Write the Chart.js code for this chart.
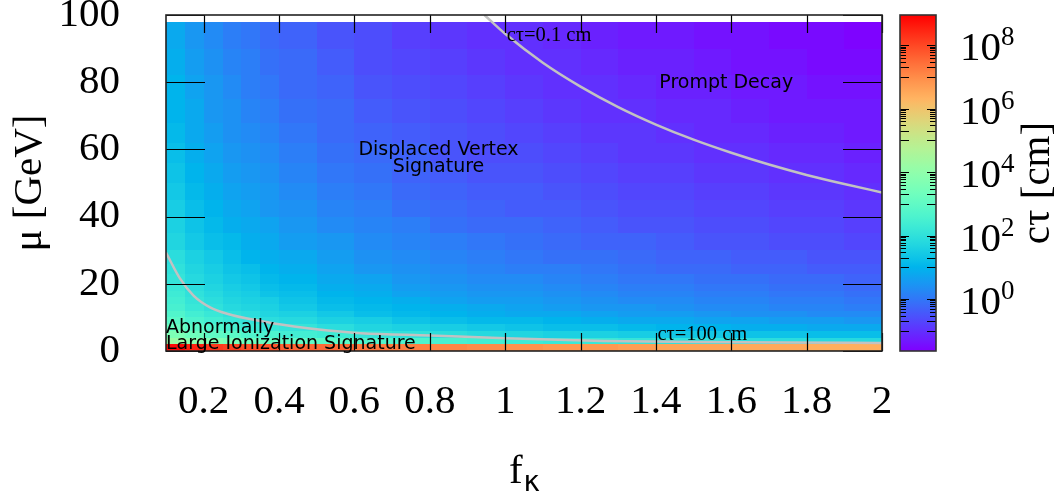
<!DOCTYPE html>
<html>
<head>
<meta charset="utf-8">
<title>c&tau; map</title>
<script src="https://cdn.jsdelivr.net/npm/chart.js@4.4.1/dist/chart.umd.min.js"></script>
<style>
  html, body { margin: 0; padding: 0; background: #fff; }
  #wrap { width: 1060px; height: 499px; }
</style>
</head>
<body>
<div id="wrap"><canvas id="ctauChart" width="1060" height="499"></canvas></div>
<script>
// Cell edges: f_kappa columns and mu rows (GeV)
const fEdges = [0.1, 0.15, 0.2, 0.25, 0.3, 0.35, 0.4, 0.5, 0.6, 0.7, 0.8, 0.9, 1.0, 1.1, 1.2, 1.3, 1.4, 1.5, 1.6, 1.7, 1.8, 1.9, 2.0];
const muEdges = [0, 2, 4, 6, 8, 10, 12, 14, 16, 18, 20, 23, 26, 30, 35, 40, 45, 50, 56, 62, 68, 75, 82, 90, 98];

// log10(c tau / cm), one row per mu bin, bottom row first
const logCtau = [
  [8.8, 8.5, 8.2, 8.1, 7.9, 7.8, 7.6, 7.5, 7.3, 7.2, 7.1, 7.0, 6.9, 6.8, 6.8, 6.7, 6.6, 6.6, 6.5, 6.5, 6.4, 6.4],
  [4.2, 3.9, 3.7, 3.5, 3.3, 3.2, 3.0, 2.9, 2.7, 2.6, 2.5, 2.4, 2.3, 2.2, 2.2, 2.1, 2.0, 2.0, 1.9, 1.9, 1.8, 1.8],
  [3.6, 3.3, 3.0, 2.9, 2.7, 2.6, 2.4, 2.3, 2.1, 2.0, 1.9, 1.8, 1.7, 1.6, 1.6, 1.5, 1.4, 1.4, 1.3, 1.3, 1.2, 1.2],
  [3.2, 2.9, 2.7, 2.5, 2.3, 2.2, 2.1, 1.9, 1.7, 1.6, 1.5, 1.4, 1.3, 1.2, 1.2, 1.1, 1.0, 1.0, 0.9, 0.9, 0.8, 0.8],
  [2.9, 2.6, 2.4, 2.2, 2.1, 1.9, 1.8, 1.6, 1.5, 1.3, 1.2, 1.1, 1.1, 1.0, 0.9, 0.8, 0.8, 0.7, 0.7, 0.6, 0.6, 0.5],
  [2.7, 2.4, 2.2, 2.0, 1.9, 1.7, 1.6, 1.4, 1.2, 1.1, 1.0, 0.9, 0.8, 0.8, 0.7, 0.6, 0.6, 0.5, 0.4, 0.4, 0.3, 0.3],
  [2.5, 2.2, 2.0, 1.8, 1.7, 1.6, 1.4, 1.2, 1.1, 1.0, 0.9, 0.8, 0.7, 0.6, 0.5, 0.5, 0.4, 0.3, 0.3, 0.2, 0.2, 0.1],
  [2.4, 2.1, 1.9, 1.7, 1.6, 1.5, 1.3, 1.1, 1.0, 0.9, 0.7, 0.6, 0.6, 0.5, 0.4, 0.3, 0.3, 0.2, 0.2, 0.1, 0.1, 0.0],
  [2.3, 2.0, 1.8, 1.6, 1.5, 1.3, 1.2, 1.0, 0.9, 0.7, 0.6, 0.5, 0.5, 0.4, 0.3, 0.2, 0.2, 0.1, 0.1, 0.0, 0.0, -0.1],
  [2.2, 1.9, 1.7, 1.5, 1.4, 1.2, 1.1, 0.9, 0.8, 0.6, 0.5, 0.4, 0.4, 0.3, 0.2, 0.1, 0.1, 0.0, 0.0, -0.1, -0.1, -0.2],
  [2.1, 1.8, 1.6, 1.4, 1.3, 1.1, 1.0, 0.8, 0.7, 0.5, 0.4, 0.3, 0.3, 0.2, 0.1, 0.0, 0.0, -0.1, -0.1, -0.2, -0.2, -0.3],
  [2.0, 1.7, 1.5, 1.3, 1.2, 1.0, 0.9, 0.7, 0.5, 0.4, 0.3, 0.2, 0.1, 0.1, 0.0, -0.1, -0.2, -0.2, -0.3, -0.3, -0.4, -0.4],
  [1.9, 1.6, 1.4, 1.2, 1.0, 0.9, 0.8, 0.6, 0.4, 0.3, 0.2, 0.1, 0.0, -0.1, -0.1, -0.2, -0.3, -0.3, -0.4, -0.4, -0.5, -0.5],
  [1.7, 1.4, 1.2, 1.1, 0.9, 0.8, 0.6, 0.5, 0.3, 0.2, 0.1, 0.0, -0.1, -0.2, -0.3, -0.3, -0.4, -0.5, -0.5, -0.6, -0.6, -0.7],
  [1.6, 1.3, 1.1, 0.9, 0.8, 0.7, 0.5, 0.3, 0.2, 0.1, -0.1, -0.2, -0.2, -0.3, -0.4, -0.5, -0.5, -0.6, -0.6, -0.7, -0.7, -0.8],
  [1.5, 1.2, 1.0, 0.8, 0.7, 0.5, 0.4, 0.2, 0.1, -0.1, -0.2, -0.3, -0.4, -0.4, -0.5, -0.6, -0.6, -0.7, -0.7, -0.8, -0.8, -0.9],
  [1.4, 1.1, 0.9, 0.7, 0.6, 0.5, 0.3, 0.1, 0.0, -0.2, -0.3, -0.4, -0.4, -0.5, -0.6, -0.7, -0.7, -0.8, -0.8, -0.9, -0.9, -1.0],
  [1.3, 1.0, 0.8, 0.6, 0.5, 0.4, 0.2, 0.0, -0.1, -0.3, -0.4, -0.5, -0.5, -0.6, -0.7, -0.8, -0.8, -0.9, -0.9, -1.0, -1.0, -1.1],
  [1.2, 0.9, 0.7, 0.5, 0.4, 0.3, 0.1, -0.1, -0.2, -0.3, -0.5, -0.6, -0.6, -0.7, -0.8, -0.9, -0.9, -1.0, -1.0, -1.1, -1.1, -1.2],
  [1.1, 0.8, 0.6, 0.4, 0.3, 0.2, 0.0, -0.2, -0.3, -0.4, -0.5, -0.6, -0.7, -0.8, -0.9, -0.9, -1.0, -1.1, -1.1, -1.2, -1.2, -1.3],
  [1.0, 0.8, 0.5, 0.4, 0.2, 0.1, -0.1, -0.2, -0.4, -0.5, -0.6, -0.7, -0.8, -0.9, -1.0, -1.0, -1.1, -1.1, -1.2, -1.3, -1.3, -1.3],
  [1.0, 0.7, 0.5, 0.3, 0.1, 0.0, -0.2, -0.3, -0.5, -0.6, -0.7, -0.8, -0.9, -1.0, -1.0, -1.1, -1.2, -1.2, -1.3, -1.3, -1.4, -1.4],
  [0.9, 0.6, 0.4, 0.2, 0.1, -0.1, -0.2, -0.4, -0.6, -0.7, -0.8, -0.9, -1.0, -1.0, -1.1, -1.2, -1.2, -1.3, -1.4, -1.4, -1.5, -1.5],
  [0.8, 0.5, 0.3, 0.1, 0.0, -0.2, -0.3, -0.5, -0.6, -0.8, -0.9, -1.0, -1.0, -1.1, -1.2, -1.3, -1.3, -1.4, -1.4, -1.5, -1.5, -1.6]
];

// Contour c tau = 0.1 cm
const shortF = [0.945, 1.0, 1.1, 1.2, 1.3, 1.4, 1.5, 1.6, 1.7, 1.8, 1.9, 2.0];
const shortMu = [100, 94.4, 85.8, 78.7, 72.6, 67.4, 62.9, 59.0, 55.5, 52.4, 49.7, 47.2];
// Contour c tau = 100 cm
const longF = [0.1, 0.137, 0.173, 0.217, 0.262, 0.351, 0.44, 0.53, 0.617, 0.8, 1.0, 1.26, 1.5, 1.75, 2.0];
const longMu = [29.3, 21.6, 16.5, 13.0, 11.1, 8.9, 7.3, 6.1, 5.3, 4.6, 3.8, 3.0, 2.7, 2.5, 2.4];

// Axis ticks
const xTicks = [0.2, 0.4, 0.6, 0.8, 1, 1.2, 1.4, 1.6, 1.8, 2];
const xTickLabels = ['0.2', '0.4', '0.6', '0.8', '1', '1.2', '1.4', '1.6', '1.8', '2'];
const yTicks = [0, 20, 40, 60, 80, 100];

// Colour bar: range in cm, labelled decades, decades carrying minor ticks
const cbRange = [0.023, 8.9e8];
const cbMajor = [1, 1e2, 1e4, 1e6, 1e8];
const cbExponents = ['0', '2', '4', '6', '8'];
const cbMinorDecades = [-1, 1, 3, 5, 7];

const SERIF = '"Liberation Serif", "Times New Roman", serif';
const SANS = '"DejaVu Sans", sans-serif';

// gnuplot rgbformulae 33,13,10
function rainbow(t) {
  t = Math.min(1, Math.max(0, t));
  const r = Math.min(1, Math.abs(2 * t - 0.5));
  const g = Math.sin(Math.PI * t);
  const b = Math.cos(Math.PI * t / 2);
  return `rgb(${Math.round(r * 255)},${Math.round(g * 255)},${Math.round(b * 255)})`;
}

function colourFor(cb, logValue) {
  const py = cb.getPixelForValue(Math.pow(10, logValue));
  return rainbow((cb.bottom - py) / (cb.bottom - cb.top));
}

// Heat map cells, underneath the contour lines
const heatmapPlugin = {
  id: 'heatmap',
  beforeDatasetsDraw(chart) {
    const { ctx, scales: { x, y, cb } } = chart;
    ctx.save();
    logCtau.forEach((row, r) => {
      const yTop = Math.round(y.getPixelForValue(muEdges[r + 1]));
      const yBot = Math.round(y.getPixelForValue(muEdges[r]));
      row.forEach((v, c) => {
        const xl = Math.round(x.getPixelForValue(fEdges[c]));
        const xr = Math.round(x.getPixelForValue(fEdges[c + 1]));
        ctx.fillStyle = colourFor(cb, v);
        ctx.fillRect(xl, yTop, xr - xl, yBot - yTop);
      });
    });
    ctx.restore();
  }
};

function textAt(ctx, x, y, f, mu, str, font, align) {
  ctx.font = font;
  ctx.textAlign = align;
  ctx.textBaseline = 'middle';
  ctx.fillText(str, x.getPixelForValue(f), y.getPixelForValue(mu));
}

// Frame, inward ticks, region labels
const framePlugin = {
  id: 'frame',
  afterDatasetsDraw(chart) {
    const { ctx, chartArea: a, scales: { x, y } } = chart;
    ctx.save();
    ctx.strokeStyle = '#000';
    ctx.lineWidth = 1.2;
    ctx.beginPath();
    xTicks.forEach(v => {
      const px = Math.round(x.getPixelForValue(v)) + 0.5;
      ctx.moveTo(px, a.bottom); ctx.lineTo(px, a.bottom - 18);
      ctx.moveTo(px, a.top); ctx.lineTo(px, a.top + 18);
    });
    yTicks.forEach(v => {
      const py = Math.round(y.getPixelForValue(v)) + 0.5;
      ctx.moveTo(a.left, py); ctx.lineTo(a.left + 39, py);
      ctx.moveTo(a.right, py); ctx.lineTo(a.right - 39, py);
    });
    ctx.stroke();

    ctx.strokeStyle = '#222';
    ctx.lineWidth = 1.6;
    ctx.strokeRect(a.left, a.top, a.right - a.left, a.bottom - a.top);

    ctx.fillStyle = '#000';
    textAt(ctx, x, y, 1.004, 94.0, 'cτ=0.1 cm', `20.5px ${SERIF}`, 'left');
    textAt(ctx, x, y, 1.404, 4.8, 'cτ=100 cm', `20.5px ${SERIF}`, 'left');
    textAt(ctx, x, y, 1.409, 79.8, 'Prompt Decay', `19px ${SANS}`, 'left');
    textAt(ctx, x, y, 0.823, 59.8, 'Displaced Vertex', `19px ${SANS}`, 'center');
    textAt(ctx, x, y, 0.823, 54.8, 'Signature', `19px ${SANS}`, 'center');
    textAt(ctx, x, y, 0.1, 6.8, 'Abnormally', `19px ${SANS}`, 'left');
    textAt(ctx, x, y, 0.1, 2.1, 'Large Ionization Signature', `19px ${SANS}`, 'left');
    ctx.restore();
  },
  afterDraw(chart) {
    const { ctx, chartArea: a, scales: { x, cb } } = chart;
    ctx.save();
    ctx.fillStyle = '#000';

    // x tick labels
    ctx.font = `41px ${SERIF}`;
    ctx.textAlign = 'center';
    ctx.textBaseline = 'alphabetic';
    xTicks.forEach((v, i) => {
      ctx.fillText(xTickLabels[i], x.getPixelForValue(v), 413);
    });

    // x axis title f_kappa
    ctx.textAlign = 'left';
    ctx.font = `41px ${SERIF}`;
    const wf = ctx.measureText('f').width;
    ctx.font = `28px ${SANS}`;
    const wk = ctx.measureText('κ').width;
    const x0 = (a.left + a.right) / 2 - (wf + wk) / 2;
    ctx.font = `41px ${SERIF}`;
    ctx.fillText('f', x0, 483);
    ctx.font = `28px ${SANS}`;
    ctx.fillText('κ', x0 + wf + 1, 491);

    // colour bar strip
    const barL = 900, barR = 936;
    const top = cb.getPixelForValue(cbRange[1]);
    const bot = cb.getPixelForValue(cbRange[0]);
    const grad = ctx.createLinearGradient(0, bot, 0, top);
    for (let i = 0; i <= 60; i++) grad.addColorStop(i / 60, rainbow(i / 60));
    ctx.fillStyle = grad;
    ctx.fillRect(barL, top, barR - barL, bot - top);

    ctx.strokeStyle = '#000';
    ctx.lineWidth = 1;
    ctx.beginPath();
    cbMajor.forEach(v => {
      const py = Math.round(cb.getPixelForValue(v)) + 0.5;
      ctx.moveTo(barL, py); ctx.lineTo(barL + 9, py);
      ctx.moveTo(barR, py); ctx.lineTo(barR - 9, py);
    });
    cbMinorDecades.forEach(d => {
      for (let k = 1; k <= 9; k++) {
        const v = k * Math.pow(10, d);
        if (v < cbRange[0] || v > cbRange[1]) continue;
        const py = Math.round(cb.getPixelForValue(v)) + 0.5;
        const len = k <= 2 ? 9 : 6;
        ctx.moveTo(barL, py); ctx.lineTo(barL + len, py);
        ctx.moveTo(barR, py); ctx.lineTo(barR - len, py);
      }
    });
    ctx.stroke();
    ctx.strokeStyle = '#333';
    ctx.lineWidth = 1.6;
    ctx.strokeRect(barL, top, barR - barL, bot - top);

    // colour bar labels 10^n
    ctx.fillStyle = '#000';
    ctx.textAlign = 'left';
    cbMajor.forEach((v, i) => {
      const py = cb.getPixelForValue(v);
      ctx.font = `41px ${SERIF}`;
      ctx.fillText('10', 960, py + 15);
      ctx.font = `27px ${SERIF}`;
      ctx.fillText(cbExponents[i], 1001, py);
    });

    // colour bar title
    ctx.save();
    ctx.translate(1038, (top + bot) / 2);
    ctx.rotate(-Math.PI / 2);
    ctx.textAlign = 'center';
    ctx.textBaseline = 'middle';
    ctx.font = `41px ${SERIF}`;
    ctx.fillText('cτ [cm]', 0, 0);
    ctx.restore();

    ctx.restore();
  }
};

const contourStyle = {
  borderColor: '#c2c2c2',
  borderWidth: 2.5,
  pointRadius: 0,
  cubicInterpolationMode: 'monotone',
  yAxisID: 'y'
};

new Chart(document.getElementById('ctauChart'), {
  type: 'line',
  data: {
    datasets: [
      Object.assign({ label: 'cτ=0.1 cm', data: shortF.map((f, i) => ({ x: f, y: shortMu[i] })) }, contourStyle),
      Object.assign({ label: 'cτ=100 cm', data: longF.map((f, i) => ({ x: f, y: longMu[i] })) }, contourStyle)
    ]
  },
  options: {
    responsive: false,
    animation: false,
    devicePixelRatio: 1,
    layout: { padding: { top: 15, right: 178, left: 0, bottom: 0 } },
    plugins: { legend: { display: false }, tooltip: { enabled: false } },
    scales: {
      x: {
        type: 'linear', min: 0.1, max: 2,
        grid: { display: false, drawTicks: false },
        border: { display: false },
        ticks: { display: false },
        afterFit(s) { s.height = 148; s.paddingLeft = 0; s.paddingRight = 0; }
      },
      y: {
        type: 'linear', min: 0, max: 100,
        grid: { display: false, drawTicks: false },
        border: { display: false },
        ticks: { color: '#000', padding: 46, font: { family: SERIF, size: 41 } },
        afterBuildTicks(s) { s.ticks = yTicks.map(v => ({ value: v })); },
        title: { display: true, text: 'μ [GeV]', color: '#000', font: { family: SERIF, size: 41 }, padding: { top: 6, bottom: 0 } },
        afterFit(s) { s.width = 166; s.paddingTop = 0; s.paddingBottom = 0; }
      },
      cb: { type: 'logarithmic', display: false, position: 'right', min: cbRange[0], max: cbRange[1] }
    }
  },
  plugins: [heatmapPlugin, framePlugin]
});
</script>
</body>
</html>
